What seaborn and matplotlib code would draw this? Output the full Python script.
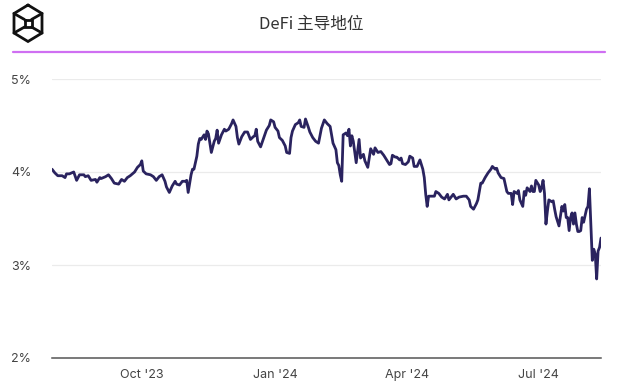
import matplotlib
matplotlib.use("Agg")
import matplotlib.pyplot as plt
from matplotlib.lines import Line2D
import pandas as pd
import seaborn as sns

# DeFi dominance (%); day offsets from 2023-07-31
start_date = "2023-07-31"
day_offsets = [
    0, 2, 4, 7, 9, 10, 12, 15, 17, 19, 22, 23, 25, 27, 30, 31, 33, 34, 37, 39,
    41, 43, 46, 48, 50, 52, 54, 57, 59, 61, 62, 63, 65, 68, 70, 72, 74, 76, 78, 79,
    81, 83, 85, 86, 88, 90, 92, 93, 94, 96, 97, 98, 100, 101, 102, 103, 105, 106, 107, 108,
    110, 112, 113, 114, 115, 117, 119, 120, 122, 124, 125, 127, 128, 129, 131, 133, 135, 137, 139, 140,
    141, 142, 144, 146, 148, 150, 151, 153, 154, 156, 157, 159, 161, 162, 164, 165, 166, 168, 170, 171,
    172, 174, 175, 177, 178, 180, 182, 184, 186, 188, 190, 192, 193, 194, 196, 197, 198, 199, 200, 201,
    203, 204, 205, 206, 207, 208, 210, 212, 213, 215, 216, 218, 220, 222, 223, 225, 227, 229, 231, 233,
    234, 235, 237, 238, 240, 241, 242, 244, 246, 247, 249, 250, 252, 254, 256, 257, 258, 259, 260, 262,
    264, 265, 267, 269, 271, 273, 274, 277, 279, 281, 284, 286, 288, 289, 291, 293, 294, 296, 297, 299,
    301, 303, 304, 306, 307, 308, 310, 312, 314, 315, 317, 318, 319, 321, 322, 323, 325, 326, 327, 328,
    330, 331, 332, 333, 334, 336, 337, 338, 339, 340, 341, 342, 343, 345, 346, 347, 348, 350, 352, 353,
    354, 355, 356, 357, 358, 359, 360, 361, 362, 363, 364, 365, 366, 367, 369, 370, 371, 372, 373, 374,
    375, 376, 377, 378, 379,
]
dominance = [
    4.03, 3.99, 3.96, 3.96, 3.94, 3.98, 3.98, 4.00, 3.91, 3.97, 3.97, 3.95, 3.96, 3.91, 3.92, 3.89, 3.94, 3.93, 3.95, 3.97,
    3.93, 3.88, 3.87, 3.92, 3.90, 3.94, 3.96, 4.00, 4.05, 4.08, 4.12, 4.01, 3.98, 3.97, 3.95, 3.91, 3.95, 3.97, 3.90, 3.84,
    3.78, 3.85, 3.90, 3.87, 3.86, 3.90, 3.90, 3.91, 3.78, 3.97, 4.03, 4.03, 4.17, 4.30, 4.36, 4.35, 4.40, 4.35, 4.44, 4.41,
    4.21, 4.33, 4.36, 4.45, 4.31, 4.40, 4.46, 4.44, 4.46, 4.52, 4.56, 4.49, 4.37, 4.30, 4.38, 4.43, 4.43, 4.35, 4.38, 4.39,
    4.46, 4.33, 4.27, 4.36, 4.45, 4.50, 4.56, 4.54, 4.48, 4.44, 4.37, 4.34, 4.28, 4.21, 4.20, 4.37, 4.44, 4.51, 4.53, 4.56,
    4.49, 4.48, 4.57, 4.48, 4.43, 4.37, 4.33, 4.31, 4.47, 4.56, 4.52, 4.49, 4.40, 4.31, 4.24, 4.10, 4.07, 3.97, 3.90, 4.40,
    4.42, 4.39, 4.46, 4.28, 4.39, 4.33, 4.10, 4.35, 4.15, 4.19, 4.12, 4.05, 4.25, 4.19, 4.26, 4.21, 4.22, 4.18, 4.13, 4.08,
    4.09, 4.18, 4.16, 4.16, 4.13, 4.15, 4.09, 4.08, 4.11, 4.17, 4.15, 4.06, 4.06, 4.13, 4.03, 3.94, 3.76, 3.63, 3.74, 3.74,
    3.74, 3.79, 3.77, 3.73, 3.71, 3.76, 3.70, 3.76, 3.71, 3.73, 3.74, 3.74, 3.70, 3.63, 3.60, 3.66, 3.70, 3.88, 3.88, 3.94,
    3.99, 4.03, 4.06, 4.03, 4.04, 3.99, 3.94, 3.93, 3.79, 3.77, 3.77, 3.65, 3.79, 3.77, 3.80, 3.70, 3.63, 3.79, 3.75, 3.83,
    3.79, 3.85, 3.79, 3.79, 3.91, 3.86, 3.79, 3.83, 3.91, 3.77, 3.44, 3.58, 3.70, 3.68, 3.69, 3.60, 3.52, 3.42, 3.63, 3.58,
    3.65, 3.51, 3.51, 3.37, 3.51, 3.56, 3.44, 3.56, 3.44, 3.36, 3.36, 3.37, 3.51, 3.46, 3.60, 3.63, 3.82, 3.44, 3.05, 3.17,
    3.12, 2.85, 3.15, 3.19, 3.29,
]
tick_dates = ["2023-10-01", "2024-01-01", "2024-04-01", "2024-07-01"]
tick_labels = ["Oct '23", "Jan '24", "Apr '24", "Jul '24"]
y_ticks = [2, 3, 4, 5]

df = pd.DataFrame({
    "date": pd.Timestamp(start_date) + pd.to_timedelta(day_offsets, unit="D"),
    "value": dominance,
})

sns.set_style("white")
plt.rcParams["font.family"] = ["Inter", "Noto Sans CJK SC", "DejaVu Sans"]

W, H = 623, 385
fig = plt.figure(figsize=(W / 100, H / 100), dpi=100)
ax = fig.add_axes([52 / W, 1 - 358 / H, (601 - 52) / W, (358 - 79) / H])

sns.lineplot(data=df, x="date", y="value", ax=ax, color="#2a235f", linewidth=2.0)

ax.set_xlim(pd.Timestamp(start_date), pd.Timestamp(start_date) + pd.Timedelta(days=379))
ax.set_ylim(2, 5)
ax.set_yticks(y_ticks)
ax.set_yticklabels([f"{v}%" for v in y_ticks])
ax.set_xticks(pd.to_datetime(tick_dates))
ax.set_xticklabels(tick_labels)
ax.set_xlabel("")
ax.set_ylabel("")

ax.grid(axis="y", color="#ebebeb", linewidth=0.9)
ax.grid(axis="x", visible=False)
ax.set_axisbelow(True)
for s in ["top", "right", "left"]:
    ax.spines[s].set_visible(False)
ax.spines["bottom"].set_color("#555555")
ax.spines["bottom"].set_linewidth(1.1)
ax.tick_params(axis="y", length=0, pad=15, labelsize=9, labelcolor="#444444")
ax.tick_params(axis="x", length=0, pad=8, labelsize=9, labelcolor="#444444")

# header
fig.text(0.5, 1 - 24 / H, "DeFi 主导地位", ha="center", va="center",
         fontsize=12, color="#333333",
         family=["Noto Sans CJK SC", "DejaVu Sans"])
fig.add_artist(Line2D([13 / W, 605 / W], [1 - 52 / H, 1 - 52 / H],
                      color="#cf6ff2", linewidth=1.6, transform=fig.transFigure))


# logo: hexagon with inner box
def px(x, y):
    return x / W, 1 - y / H


def seg(points):
    xs, ys = zip(*[px(*p) for p in points])
    fig.add_artist(Line2D(xs, ys, color="#111111", linewidth=2.0,
                          transform=fig.transFigure, solid_joinstyle="miter"))


seg([(28, 5), (42, 13.5), (42, 33), (28, 41.5), (14, 33), (14, 13.5), (28, 5)])
seg([(24.5, 19.5), (31.5, 19.5), (31.5, 27), (24.5, 27), (24.5, 19.5)])
seg([(14, 13.5), (24.5, 19.5)])
seg([(42, 13.5), (31.5, 19.5)])
seg([(14, 33), (24.5, 27)])
seg([(42, 33), (31.5, 27)])

fig.savefig("out.png", dpi=100)
